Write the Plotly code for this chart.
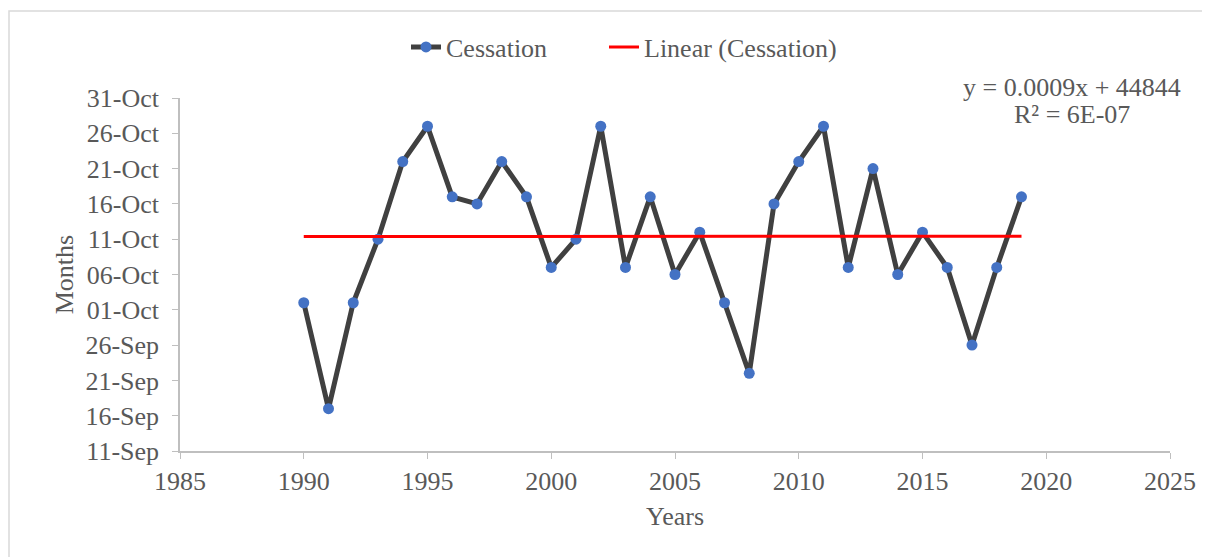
import numpy as np
import pandas as pd
import plotly.graph_objects as go

years = [1990, 1991, 1992, 1993, 1994, 1995, 1996, 1997, 1998, 1999,
         2000, 2001, 2002, 2003, 2004, 2005, 2006, 2007, 2008, 2009,
         2010, 2011, 2012, 2013, 2014, 2015, 2016, 2017, 2018, 2019]
cessation = ["02-Oct", "17-Sep", "02-Oct", "11-Oct", "22-Oct", "27-Oct", "17-Oct", "16-Oct", "22-Oct", "17-Oct",
             "07-Oct", "11-Oct", "27-Oct", "07-Oct", "17-Oct", "06-Oct", "12-Oct", "02-Oct", "22-Sep", "16-Oct",
             "22-Oct", "27-Oct", "07-Oct", "21-Oct", "06-Oct", "12-Oct", "07-Oct", "26-Sep", "07-Oct", "17-Oct"]
y_ticks = ["11-Sep", "16-Sep", "21-Sep", "26-Sep", "01-Oct", "06-Oct",
           "11-Oct", "16-Oct", "21-Oct", "26-Oct", "31-Oct"]
x_ticks = [1985, 1990, 1995, 2000, 2005, 2010, 2015, 2020, 2025]

YEAR = "2022"
def to_date(s):
    return pd.to_datetime(s + "-" + YEAR, format="%d-%b-%Y")

dates = [to_date(s) for s in cessation]
tick_dates = [to_date(s) for s in y_ticks]

# linear trend (least squares) in day units
base = tick_dates[0]
days = np.array([(d - base).days for d in dates], dtype=float)
coef = np.polyfit(np.array(years, dtype=float), days, 1)
trend_x = [years[0], years[-1]]
trend_y = [base + pd.Timedelta(days=float(np.polyval(coef, x))) for x in trend_x]

font_family = "Liberation Serif"
txt_color = "#595959"
fs = 26

def px_x(p):
    return (p - 180) / 990

def px_y(p):
    return (451 - p) / 353

fig = go.Figure()
fig.add_trace(go.Scatter(
    x=years, y=dates, mode="lines+markers", name="Cessation",
    line=dict(color="#404040", width=5),
    marker=dict(color="#4472C4", size=11),
    legend="legend",
))
fig.add_trace(go.Scatter(
    x=trend_x, y=trend_y, mode="lines", name="Linear (Cessation)",
    line=dict(color="#FF0000", width=3),
    legend="legend2",
))

leg_common = dict(orientation="h", yanchor="middle", y=px_y(47), xanchor="left",
                  font=dict(size=fs, color=txt_color), bgcolor="rgba(0,0,0,0)")

fig.update_layout(
    width=1202, height=549,
    margin=dict(l=172, r=40, t=90, b=106),
    paper_bgcolor="white", plot_bgcolor="white",
    font=dict(family=font_family, size=fs, color=txt_color),
    legend=dict(x=px_x(406), **leg_common),
    legend2=dict(x=px_x(604), **leg_common),
    xaxis=dict(range=[1985, 2025], tickvals=x_ticks, ticks="outside", ticklen=6,
               tickcolor="#bfbfbf", showline=True, linecolor="#bfbfbf", linewidth=1.5,
               showgrid=False, zeroline=False,
               title=dict(text="Years", font=dict(size=fs, color=txt_color), standoff=12),
               tickfont=dict(size=fs, color=txt_color)),
    yaxis=dict(type="date", range=[tick_dates[0], tick_dates[-1]], tickvals=tick_dates,
               tickformat="%d-%b", ticks="outside", ticklen=6, tickcolor="#bfbfbf",
               showline=True, linecolor="#bfbfbf", linewidth=1.5, showgrid=False,
               zeroline=False, ticklabelstandoff=8,
               title=dict(text="Months", font=dict(size=fs, color=txt_color), standoff=4),
               tickfont=dict(size=fs, color=txt_color)),
    showlegend=True,
)

fig.add_annotation(
    xref="paper", yref="paper", x=px_x(1072), y=px_y(88), xanchor="center", yanchor="middle",
    text="y = 0.0009x + 44844", showarrow=False,
    font=dict(size=fs, color=txt_color, family=font_family),
)
fig.add_annotation(
    xref="paper", yref="paper", x=px_x(1072), y=px_y(115), xanchor="center", yanchor="middle",
    text="R² = 6E-07", showarrow=False,
    font=dict(size=fs, color=txt_color, family=font_family),
)

# outer chart border
fig.add_shape(type="rect", xref="paper", yref="paper",
              x0=px_x(9), x1=px_x(1215),
              y0=px_y(565), y1=px_y(11),
              line=dict(color="#d9d9d9", width=1.5), fillcolor="rgba(0,0,0,0)", layer="below")

fig.write_html("out.html")
